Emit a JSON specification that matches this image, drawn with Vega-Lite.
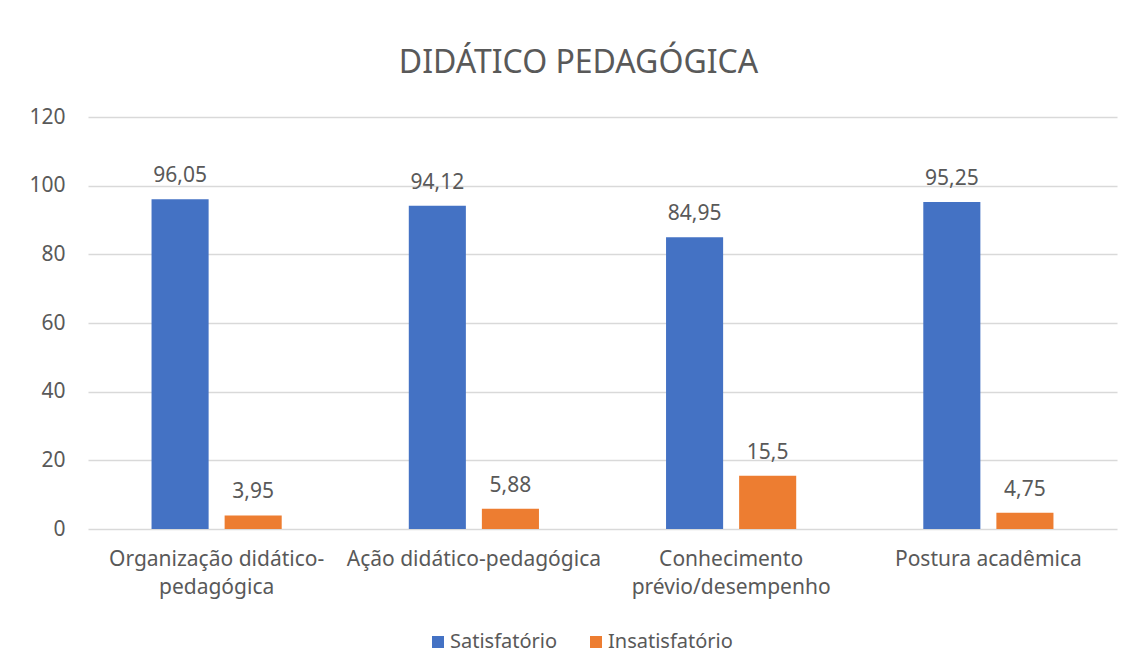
{
  "$schema": "https://vega.github.io/schema/vega-lite/v6.json",
  "autosize": "none",
  "width": 1029,
  "height": 412,
  "padding": {"left": 88, "top": 117, "right": 16, "bottom": 142},
  "background": "white",
  "config": {
    "font": "Noto Sans",
    "view": {"stroke": null},
    "locale": {"number": {"decimal": ",", "thousands": ".", "grouping": [3], "currency": ["R$", ""]}}
  },
  "title": {
    "text": "DIDÁTICO PEDAGÓGICA",
    "fontSize": 32,
    "fontWeight": "normal",
    "color": "#595959",
    "anchor": "middle",
    "dx": -24,
    "offset": 26,
    "font": "Noto Sans"
  },
  "data": {
    "values": [
      {"categoria": "Organização didático-pedagógica", "serie": "Satisfatório", "valor": 96.05},
      {"categoria": "Organização didático-pedagógica", "serie": "Insatisfatório", "valor": 3.95},
      {"categoria": "Ação didático-pedagógica", "serie": "Satisfatório", "valor": 94.12},
      {"categoria": "Ação didático-pedagógica", "serie": "Insatisfatório", "valor": 5.88},
      {"categoria": "Conhecimento prévio/desempenho", "serie": "Satisfatório", "valor": 84.95},
      {"categoria": "Conhecimento prévio/desempenho", "serie": "Insatisfatório", "valor": 15.5},
      {"categoria": "Postura acadêmica", "serie": "Satisfatório", "valor": 95.25},
      {"categoria": "Postura acadêmica", "serie": "Insatisfatório", "valor": 4.75}
    ]
  },
  "encoding": {
    "x": {
      "field": "categoria",
      "type": "nominal",
      "sort": null,
      "scale": {"paddingInner": 0.494, "paddingOuter": 0.247},
      "axis": {
        "title": null,
        "labelAngle": 0,
        "domain": false,
        "ticks": false,
        "labelFontSize": 21,
        "labelColor": "#595959",
        "labelPadding": 19,
        "labelLineHeight": 28,
        "labelLimit": 400,
        "labelExpr": "datum.value == 'Organização didático-pedagógica' ? ['Organização didático-', 'pedagógica'] : datum.value == 'Conhecimento prévio/desempenho' ? ['Conhecimento', 'prévio/desempenho'] : datum.value"
      }
    },
    "xOffset": {
      "field": "serie",
      "type": "nominal",
      "sort": ["Satisfatório", "Insatisfatório"],
      "scale": {"paddingInner": 0.219, "paddingOuter": 0}
    },
    "y": {
      "field": "valor",
      "type": "quantitative",
      "scale": {"domain": [0, 120]},
      "axis": {
        "title": null,
        "values": [0, 20, 40, 60, 80, 100, 120],
        "domain": false,
        "ticks": false,
        "labelFontSize": 21,
        "labelColor": "#595959",
        "labelPadding": 23,
        "gridColor": "#d9d9d9",
        "gridWidth": 1.5
      }
    }
  },
  "layer": [
    {
      "mark": {"type": "bar"},
      "encoding": {
        "color": {
          "field": "serie",
          "type": "nominal",
          "sort": ["Satisfatório", "Insatisfatório"],
          "scale": {"domain": ["Satisfatório", "Insatisfatório"], "range": ["#4472C4", "#ED7D31"]},
          "legend": {
            "title": null,
            "orient": "none",
            "direction": "horizontal",
            "legendX": 340,
            "legendY": 515,
            "symbolType": "square",
            "symbolSize": 144,
            "symbolStrokeWidth": 0,
            "labelFontSize": 20,
            "labelColor": "#595959",
            "labelOffset": 2,
            "labelLimit": 300,
            "columnPadding": 28
          }
        }
      }
    },
    {
      "mark": {"type": "text", "baseline": "alphabetic", "dy": -17, "fontSize": 21, "color": "#595959"},
      "encoding": {
        "text": {"field": "valor", "type": "quantitative", "format": ".4~r"}
      }
    }
  ]
}
